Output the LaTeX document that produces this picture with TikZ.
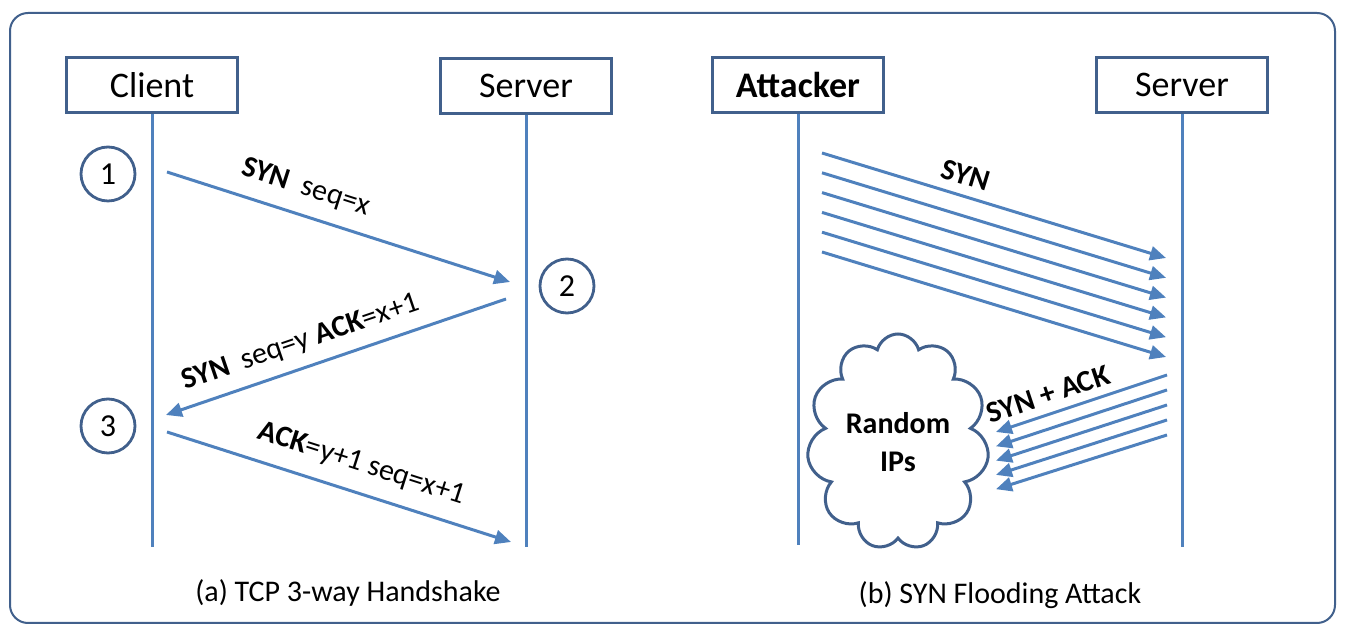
\documentclass[tikz,border=0pt]{standalone}
\usepackage{fontspec}
\setmainfont{Carlito}
\usetikzlibrary{arrows.meta,shapes.symbols}
\definecolor{lineblue}{HTML}{4F81BD}
\definecolor{edgeblue}{HTML}{41608C}
\tikzset{
  actor/.style={draw=edgeblue, line width=1.6pt, minimum width=85.5pt, minimum height=27.5pt, inner sep=0pt, font=\fontsize{18}{21}\selectfont},
  lifeline/.style={lineblue, line width=1.5pt},
  msg/.style={lineblue, line width=1.5pt, -{Triangle[length=8pt,width=7pt]}},
  stepnum/.style={circle, draw=edgeblue, line width=1.4pt, minimum size=27pt, inner sep=0pt, font=\fontsize{16}{18}\selectfont},
  msglabel/.style={sloped, text=black, font=\fontsize{15}{18}\selectfont},
  caption/.style={font=\fontsize{15}{18}\selectfont}
}

\begin{document}
\begin{tikzpicture}[x=0.5pt, y=-0.5pt] % 1 unit = 1 px of the reference
        \useasboundingbox (0,0) rectangle (1356,640);

        % Frame
        \draw[edgeblue, line width=1pt, rounded corners=9pt] (10,13) rectangle (1335,623);

        % (a) TCP 3-way handshake
        \node[actor] (client) at (152,85) {Client};
        \node[actor] (serverA) at (526,86) {Server};
        \coordinate (clientEnd) at (152,547);
        \coordinate (serverAEnd) at (526,547);
        \draw[lifeline] (client.south) -- (clientEnd);
        \draw[lifeline] (serverA.south) -- (serverAEnd);

        \node[stepnum] (one) at (108,174) {1};
        \node[stepnum] (two) at (567,286) {2};
        \node[stepnum] (three) at (108,426) {3};

        \coordinate (m1s) at (167,172);
        \coordinate (m1e) at (510,282);
        \coordinate (m2s) at (506,299);
        \coordinate (m2e) at (166,415);
        \coordinate (m3s) at (167,432);
        \coordinate (m3e) at (511,542);
        \draw[msg] (m1s) -- node[msglabel, pos=0.38, above=3.4pt] {\textbf{SYN}~~seq=x} (m1e);
        \draw[msg] (m2s) -- node[msglabel, pos=0.58, above=2.4pt] {\textbf{SYN}~~seq=y \textbf{ACK}=x+1} (m2e);
        \draw[msg] (m3s) -- node[msglabel, pos=0.54, above=4pt] {\textbf{ACK}=y+1 seq=x+1} (m3e);

        \node[caption] (capA) at (348,593) {(a) TCP 3-way Handshake};

        % (b) SYN flooding attack
        \node[actor, font=\fontsize{18}{21}\selectfont\bfseries] (attacker) at (798,85) {Attacker};
        \node[actor] (serverB) at (1182,85) {Server};
        \coordinate (attackerEnd) at (798,545);
        \coordinate (serverBEnd) at (1182,547);
        \draw[lifeline] (attacker.south) -- (attackerEnd);
        \draw[lifeline] (serverB.south) -- (serverBEnd);

        % SYN packets
        \foreach \i in {0,...,5} {
            \coordinate (syn\i s) at (822,{153+19.8*\i});
            \coordinate (syn\i e) at (1166,{258+19.8*\i});
            \draw[msg] (syn\i s) -- (syn\i e);
        }
        \path (syn0s) -- node[msglabel, pos=0.40, above=1.8pt] {\textbf{SYN}} (syn0e);

        % SYN + ACK replies
        \foreach \i in {0,...,4} {
            \coordinate (ack\i s) at (1167,{375+15*\i});
            \coordinate (ack\i e) at (996,{432+14.3*\i});
            \draw[msg] (ack\i s) -- (ack\i e);
        }
        \path (ack0s) -- node[msglabel, pos=0.66, above=1.3pt] {\textbf{SYN + ACK}} (ack0e);

        % Spoofed sources
        \node[cloud, cloud puffs=11, cloud ignores aspect, draw=edgeblue, line width=1.5pt,
              minimum width=84pt, minimum height=108pt, align=center,
              font=\fontsize{15}{19}\selectfont\bfseries] (randomIPs) at (898,442) {Random\\IPs};

        \node[caption] (capB) at (1000,595) {(b) SYN Flooding Attack};
\end{tikzpicture}
\end{document}
